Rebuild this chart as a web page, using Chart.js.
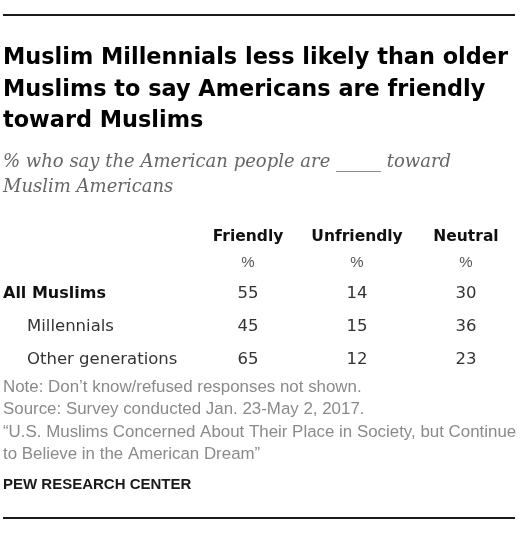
<!DOCTYPE html>
<html>
<head>
<meta charset="utf-8">
<script src="https://cdn.jsdelivr.net/npm/chart.js@4.4.0/dist/chart.umd.min.js"></script>
<style>
  html, body { margin: 0; padding: 0; background: #fff; }
</style>
</head>
<body>
<canvas id="tableChart" width="520" height="533"></canvas>
<script>
// Pew table: how Muslim Americans think the American people treat them

const titleLines = [
    'Muslim Millennials less likely than older',
    'Muslims to say Americans are friendly',
    'toward Muslims'
];
const subtitleLines = [
    '% who say the American people are _____ toward',
    'Muslim Americans'
];
const columns = ['Friendly', 'Unfriendly', 'Neutral'];
const rowLabels = ['All Muslims', 'Millennials', 'Other generations'];
const friendly = [55, 45, 65];
const unfriendly = [14, 15, 12];
const neutral = [30, 36, 23];
const noteLines = [
    'Note: Don\u2019t know/refused responses not shown.',
    'Source: Survey conducted Jan. 23-May 2, 2017.',
    '\u201cU.S. Muslims Concerned About Their Place in Society, but Continue',
    'to Believe in the American Dream\u201d'
];
const sourceLabel = 'PEW RESEARCH CENTER';

const SANS = '"Liberation Sans", Arial, sans-serif';
const WIDE = '"DejaVu Sans", sans-serif';
const SERIF = '"DejaVu Serif", Georgia, serif';

// one invisible point per cell; the plugin writes the number where the point lands
function cellData(values, col) {
    return values.map((v, i) => ({ x: col, y: i, v: v }));
}

const tablePlugin = {
    id: 'pewTable',
    afterDraw(chart) {
        const ctx = chart.ctx;
        const xs = chart.scales.x;
        const ys = chart.scales.y;
        ctx.save();

        // rules
        ctx.fillStyle = '#1a1a1a';
        ctx.fillRect(3, 14, 512, 2);
        ctx.fillRect(3, 517, 512, 2);

        // title
        ctx.textAlign = 'left';
        ctx.textBaseline = 'alphabetic';
        ctx.fillStyle = '#000';
        ctx.font = 'bold 22.4px ' + WIDE;
        titleLines.forEach((t, i) => ctx.fillText(t, 3, 64 + i * 31.5));

        // subtitle
        ctx.fillStyle = '#666';
        ctx.font = 'italic 18px ' + SERIF;
        subtitleLines.forEach((t, i) => ctx.fillText(t, 3, 167 + i * 25));

        // column headers and % row
        ctx.textAlign = 'center';
        columns.forEach((c, j) => {
            const x = xs.getPixelForValue(j);
            ctx.fillStyle = '#111';
            ctx.font = 'bold 15.5px ' + WIDE;
            ctx.fillText(c, x, ys.getPixelForValue(-1.73));
            ctx.fillStyle = '#555';
            ctx.font = '15px ' + SANS;
            ctx.fillText('%', x, ys.getPixelForValue(-0.94));
        });

        // row labels
        ctx.textAlign = 'left';
        rowLabels.forEach((r, i) => {
            const y = ys.getPixelForValue(i);
            if (i === 0) {
                ctx.fillStyle = '#111';
                ctx.font = 'bold 16px ' + WIDE;
                ctx.fillText(r, 3, y);
            } else {
                ctx.fillStyle = '#333';
                ctx.font = '16.5px ' + WIDE;
                ctx.fillText(r, 27, y);
            }
        });

        // cell values
        ctx.textAlign = 'center';
        ctx.fillStyle = '#333';
        ctx.font = '16.5px ' + WIDE;
        chart.data.datasets.forEach((ds, d) => {
            chart.getDatasetMeta(d).data.forEach((pt, i) => {
                ctx.fillText(String(ds.data[i].v), pt.x, pt.y);
            });
        });

        // notes
        ctx.textAlign = 'left';
        ctx.fillStyle = '#8a8a8a';
        ctx.font = '16.9px ' + SANS;
        noteLines.forEach((t, i) => ctx.fillText(t, 3, 392 + i * 22.3));

        ctx.fillStyle = '#1a1a1a';
        ctx.font = 'bold 15px ' + SANS;
        ctx.fillText(sourceLabel, 3, 489);

        ctx.restore();
    }
};

const tableCtx = document.getElementById('tableChart').getContext('2d');
const tableChart = new Chart(tableCtx, {
    type: 'scatter',
    data: {
        datasets: [
            { label: columns[0], data: cellData(friendly, 0) },
            { label: columns[1], data: cellData(unfriendly, 1) },
            { label: columns[2], data: cellData(neutral, 2) }
        ]
    },
    options: {
        responsive: false,
        animation: false,
        events: [],
        elements: { point: { radius: 0, hoverRadius: 0 } },
        layout: { padding: { top: 215, bottom: 158, left: 3, right: 3 } },
        plugins: {
            legend: { display: false },
            tooltip: { enabled: false }
        },
        scales: {
            x: { type: 'linear', display: false, min: -2.248, max: 2.468 },
            y: { type: 'linear', display: false, reverse: true, min: -2.515, max: 2.333 }
        }
    },
    plugins: [tablePlugin]
});
</script>
</body>
</html>
